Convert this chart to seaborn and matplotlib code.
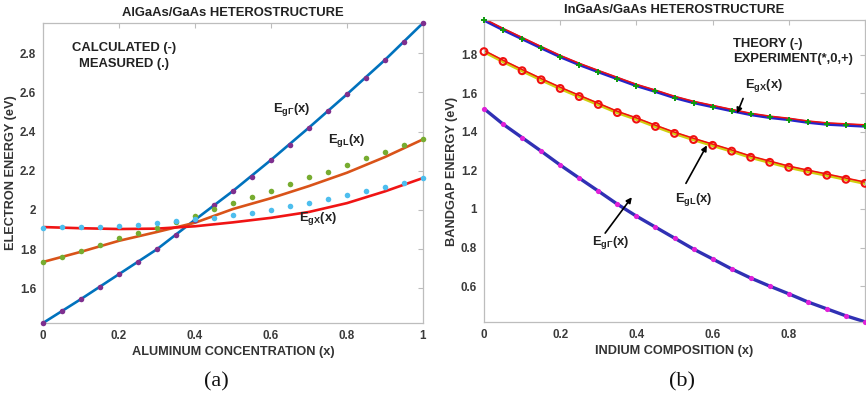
import numpy as np
import pandas as pd
import matplotlib
matplotlib.use("Agg")
import matplotlib.pyplot as plt
import matplotlib.transforms as mtransforms
import seaborn as sns

# ---------------- data ----------------
# (a) AlGaAs/GaAs: aluminium fraction
x_al = [0.00, 0.05, 0.10, 0.15, 0.20, 0.25, 0.30, 0.35, 0.40, 0.45, 0.50,
        0.55, 0.60, 0.65, 0.70, 0.75, 0.80, 0.85, 0.90, 0.95, 1.00]
gamma_meas = [1.424, 1.485, 1.546, 1.607, 1.673, 1.735, 1.800, 1.875, 1.950, 2.025, 2.097,
              2.170, 2.255, 2.330, 2.420, 2.505, 2.590, 2.675, 2.765, 2.857, 2.953]
l_meas = [1.735, 1.760, 1.790, 1.820, 1.855, 1.883, 1.908, 1.940, 1.970, 2.005, 2.038,
          2.068, 2.098, 2.130, 2.168, 2.195, 2.230, 2.265, 2.295, 2.330, 2.362]
x_meas = [1.910, 1.911, 1.912, 1.914, 1.918, 1.923, 1.933, 1.943, 1.953, 1.961, 1.974,
          1.987, 2.000, 2.020, 2.035, 2.055, 2.075, 2.095, 2.115, 2.137, 2.165]

x_al_calc = [0.0, 0.1, 0.2, 0.3, 0.4, 0.5, 0.6, 0.7, 0.8, 0.9, 1.0]
gamma_calc = [1.424, 1.546, 1.673, 1.800, 1.950, 2.097, 2.255, 2.420, 2.590, 2.765, 2.953]
l_calc = [1.735, 1.787, 1.843, 1.888, 1.935, 2.005, 2.060, 2.122, 2.190, 2.270, 2.360]
x_calc = [1.913, 1.907, 1.903, 1.905, 1.917, 1.937, 1.960, 1.990, 2.035, 2.095, 2.163]

# (b) InGaAs/GaAs: indium fraction
x_in = [0.00, 0.05, 0.10, 0.15, 0.20, 0.25, 0.30, 0.35, 0.40, 0.45, 0.50,
        0.55, 0.60, 0.65, 0.70, 0.75, 0.80, 0.85, 0.90, 0.95, 1.00]
egx_in = [1.980, 1.930, 1.883, 1.836, 1.790, 1.749, 1.712, 1.676, 1.640, 1.610, 1.578,
          1.552, 1.531, 1.510, 1.490, 1.475, 1.464, 1.450, 1.440, 1.435, 1.430]
egl_in = [1.816, 1.765, 1.717, 1.670, 1.625, 1.583, 1.542, 1.500, 1.466, 1.428, 1.392,
          1.360, 1.330, 1.300, 1.268, 1.242, 1.216, 1.195, 1.175, 1.154, 1.133]
egg_in = [1.520, 1.440, 1.370, 1.300, 1.228, 1.160, 1.093, 1.025, 0.963, 0.906, 0.849,
          0.792, 0.741, 0.689, 0.642, 0.600, 0.560, 0.518, 0.482, 0.446, 0.415]

x_ticks = [0, 0.2, 0.4, 0.6, 0.8, 1]
xa_ticklabels = ["0", "0.2", "0.4", "0.6", "0.8", "1"]
xb_ticklabels = ["0", "0.2", "0.4", "0.6", "0.8", ""]
ya_ticks = [1.6, 1.8, 2.0, 2.2, 2.4, 2.6, 2.8]
ya_ticklabels = ["1.6", "1.8", "2", "2.2", "2.4", "2.6", "2.8"]
yb_ticks = [0.6, 0.8, 1.0, 1.2, 1.4, 1.6, 1.8]
yb_ticklabels = ["0.6", "0.8", "1", "1.2", "1.4", "1.6", "1.8"]

df_a = pd.DataFrame({"x": x_al, "G": gamma_meas, "L": l_meas, "X": x_meas})
df_a_calc = pd.DataFrame({"x": x_al_calc, "G": gamma_calc, "L": l_calc, "X": x_calc})
df_b = pd.DataFrame({"x": x_in, "X": egx_in, "L": egl_in, "G": egg_in})

# ---------------- style ----------------
sns.set_style("white")
plt.rcParams["font.family"] = ["Liberation Sans", "DejaVu Sans"]
plt.rcParams["mathtext.fontset"] = "custom"
plt.rcParams["mathtext.rm"] = "Liberation Sans"
plt.rcParams["mathtext.bf"] = "Liberation Sans:bold"
plt.rcParams["mathtext.it"] = "Liberation Sans:italic"

spine_c = "#bdbdbd"
tick_lbl_c = "#3a3a3a"

fig = plt.figure(figsize=(8.66, 4.05), dpi=100)
ax_a = fig.add_axes([43 / 866, 1 - 323 / 405, 380 / 866, 300 / 405])
ax_b = fig.add_axes([484 / 866, 1 - 322 / 405, 381 / 866, 302 / 405])


def style_axes(ax, xticklabels, yticks, yticklabels):
    ax.set_xticks(x_ticks)
    ax.set_xticklabels(xticklabels)
    ax.set_yticks(yticks)
    ax.set_yticklabels(yticklabels)
    for sp in ax.spines.values():
        sp.set_visible(True)
        sp.set_color(spine_c)
        sp.set_linewidth(0.9)
    ax.tick_params(direction="in", length=3.5, width=0.8, color=spine_c,
                   top=True, right=True, labelsize=8.4, labelcolor=tick_lbl_c, pad=5)
    for lbl in ax.get_xticklabels() + ax.get_yticklabels():
        lbl.set_fontweight("bold")


title_kw = dict(fontsize=9.4, fontweight="bold", color="#222222", pad=5)
label_kw = dict(fontsize=9.2, fontweight="bold", color="#333333")
txt_kw = dict(fontsize=9.4, fontweight="bold", color="#222222")

# ---------------- (a) AlGaAs/GaAs ----------------
lw_a = 1.9
sns.lineplot(data=df_a_calc, x="x", y="G", ax=ax_a, color="#0072BD", lw=lw_a, zorder=2)
sns.lineplot(data=df_a_calc, x="x", y="L", ax=ax_a, color="#D95319", lw=lw_a, zorder=2)
sns.lineplot(data=df_a_calc, x="x", y="X", ax=ax_a, color="#F01414", lw=lw_a, zorder=2)
sns.scatterplot(data=df_a, x="x", y="G", ax=ax_a, color="#7E2F8E", s=16, linewidth=0, zorder=3, clip_on=False)
sns.scatterplot(data=df_a, x="x", y="L", ax=ax_a, color="#77AC30", s=16, linewidth=0, zorder=3, clip_on=False)
sns.scatterplot(data=df_a, x="x", y="X", ax=ax_a, color="#4DBEEE", s=16, linewidth=0, zorder=3, clip_on=False)

ax_a.set_xlim(0, 1)
ax_a.set_ylim(1.424, 2.953)
style_axes(ax_a, xa_ticklabels, ya_ticks, ya_ticklabels)
ax_a.set_title("AlGaAs/GaAs HETEROSTRUCTURE", **title_kw)
ax_a.set_xlabel("ALUMINUM CONCENTRATION (x)", labelpad=3, **label_kw)
ax_a.set_ylabel("ELECTRON ENERGY (eV)", labelpad=2, **label_kw)

ax_a.text(0.213, 0.918, "CALCULATED (-)", transform=ax_a.transAxes, ha="center", va="center", **txt_kw)
ax_a.text(0.213, 0.862, "MEASURED (.)", transform=ax_a.transAxes, ha="center", va="center", **txt_kw)
ax_a.text(0.655, 2.51, r"E$_{\mathbf{g\Gamma}}$(x)", ha="center", va="center", **txt_kw)
ax_a.text(0.80, 2.356, r"E$_{\mathbf{gL}}$(x)", ha="center", va="center", **txt_kw)
ax_a.text(0.724, 1.958, r"E$_{\mathbf{gX}}$(x)", ha="center", va="center", **txt_kw)

# ---------------- (b) InGaAs/GaAs ----------------
shift_up = mtransforms.offset_copy(ax_b.transData, fig=fig, x=0, y=0.9, units="points")
sns.lineplot(data=df_b, x="x", y="X", ax=ax_b, color="#2525C8", lw=2.4, zorder=2)
sns.lineplot(data=df_b, x="x", y="X", ax=ax_b, color="#F01010", lw=1.1, zorder=2, transform=shift_up)
sns.lineplot(data=df_b, x="x", y="L", ax=ax_b, color="#CFCF10", lw=2.4, zorder=2)
sns.lineplot(data=df_b, x="x", y="L", ax=ax_b, color="#F01010", lw=1.1, zorder=2, transform=shift_up)
sns.lineplot(data=df_b, x="x", y="G", ax=ax_b, color="#3030B4", lw=2.4, zorder=2)

sns.scatterplot(data=df_b, x="x", y="X", ax=ax_b, marker="+", color="#0E9A0E", s=22,
                linewidth=1.4, zorder=3, clip_on=False)
sns.scatterplot(data=df_b, x="x", y="L", ax=ax_b, marker="o", facecolor="none", edgecolor="#F01010",
                s=24, linewidth=1.5, zorder=3, clip_on=False)
sns.scatterplot(data=df_b, x="x", y="G", ax=ax_b, marker="o", color="#E020D8", s=14,
                linewidth=0, zorder=3, clip_on=False)

ax_b.set_xlim(0, 1)
ax_b.set_ylim(0.414, 1.98)
style_axes(ax_b, xb_ticklabels, yb_ticks, yb_ticklabels)
ax_b.set_title("InGaAs/GaAs HETEROSTRUCTURE", **title_kw)
ax_b.set_xlabel("INDIUM COMPOSITION (x)", labelpad=3, **label_kw)
ax_b.set_ylabel("BANDGAP ENERGY (eV)", labelpad=2, **label_kw)

ax_b.text(0.654, 1.857, "THEORY (-)", ha="left", va="center", **txt_kw)
ax_b.text(0.654, 1.779, "EXPERIMENT(*,0,+)", ha="left", va="center", **txt_kw)
ax_b.text(0.735, 1.64, r"E$_{\mathbf{gX}}$(x)", ha="center", va="center", **txt_kw)
ax_b.text(0.551, 1.05, r"E$_{\mathbf{gL}}$(x)", ha="center", va="center", **txt_kw)
ax_b.text(0.333, 0.828, r"E$_{\mathbf{g\Gamma}}$(x)", ha="center", va="center", **txt_kw)

arrow_kw = dict(arrowstyle="-|>", color="black", lw=1.2, mutation_scale=8, shrinkA=0, shrinkB=0)
ax_b.annotate("", xy=(0.664, 1.495), xytext=(0.680, 1.573), arrowprops=arrow_kw)
ax_b.annotate("", xy=(0.585, 1.33), xytext=(0.530, 1.133), arrowprops=arrow_kw)
ax_b.annotate("", xy=(0.388, 1.061), xytext=(0.318, 0.875), arrowprops=arrow_kw)

# panel captions
cap_kw = dict(ha="center", va="center", fontsize=16,
              family=["Liberation Serif", "DejaVu Serif"], color="#111111")
fig.text(216 / 866, 1 - 382 / 405, "(a)", **cap_kw)
fig.text(682 / 866, 1 - 382 / 405, "(b)", **cap_kw)

fig.savefig("out.png", dpi=100)
